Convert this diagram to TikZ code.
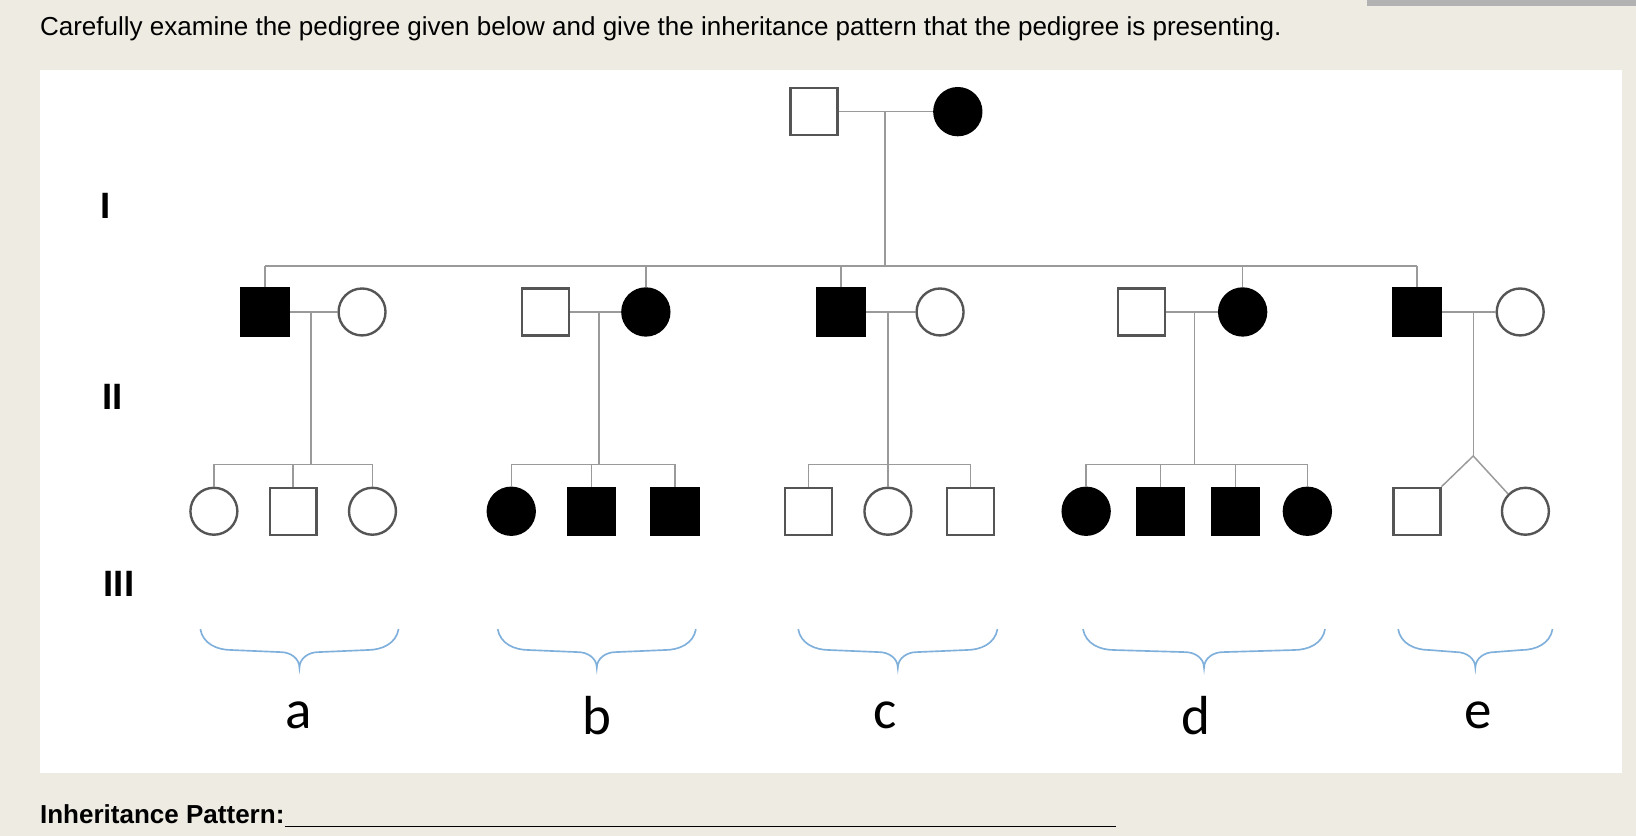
\documentclass[tikz,border=0pt]{standalone}
\usepackage{fontspec}
\setmainfont{Liberation Sans}
\newfontfamily\calfont{Carlito}
\definecolor{bg}{HTML}{EEEBE3}
\definecolor{ln}{HTML}{9A9A9A}
\definecolor{sh}{HTML}{555555}
\definecolor{bcol}{HTML}{7FB0DC}
\begin{document}
\begin{tikzpicture}[x=0.02cm,y=-0.02cm,
  M/.style={draw=sh,line width=1.3pt,fill=white,minimum size=0.9cm,inner sep=0pt,rectangle},
  F/.style={draw=sh,line width=1.3pt,fill=white,minimum size=0.9cm,inner sep=0pt,circle},
  aff/.style={fill=black,draw=black},
  lk/.style={ln,line width=0.8pt},
  brc/.style={bcol,line width=0.9pt},
  gen/.style={font=\bfseries\fontsize{20}{24}\selectfont},
  lab/.style={font=\calfont\fontsize{30}{34}\selectfont}]
\fill[bg] (0,0) rectangle (1568,801);
\useasboundingbox (0,0) rectangle (1568,801);
\fill[gray!60] (1310,0) rectangle (1568,6);
\fill[white] (38,67) rectangle (1555,741);
\node[anchor=west,font=\fontsize{14.2}{17}\selectfont,inner xsep=0pt] (title) at (38,28) {Carefully examine the pedigree given below and give the inheritance pattern that the pedigree is presenting.};
% Generation labels
\node[gen] (g1) at (101,197) {I};
\node[gen] (g2) at (108,380) {II};
\node[gen] (g3) at (114,560) {III};
% Gen I
\node[M] (p1) at (780,107) {};
\node[F,aff] (p2) at (918,107) {};
\coordinate (j0) at (848,107);
\coordinate (s0) at (848,255);
\draw[lk] (p1) -- (p2);
\draw[lk] (j0) -- (s0);
\draw[lk] (254,255) -- (1358,255);
% Gen II
\node[M,aff] (a1) at (254,299) {}; \node[F] (a2) at (347,299) {};
\node[M] (b1) at (523,299) {}; \node[F,aff] (b2) at (619,299) {};
\node[M,aff] (c1) at (806,299) {}; \node[F] (c2) at (901,299) {};
\node[M] (d1) at (1094,299) {}; \node[F,aff] (d2) at (1191,299) {};
\node[M,aff] (e1) at (1358,299) {}; \node[F] (e2) at (1457,299) {};
\foreach \p in {a1,b2,c1,d2,e1} \draw[lk] (\p.north) -- (\p.north |- s0);
\foreach \m/\f in {a1/a2,b1/b2,c1/c2,d1/d2,e1/e2} \draw[lk] (\m) -- (\f);
% Gen III
\node[F] (a3) at (205,490) {}; \node[M] (a4) at (281,490) {}; \node[F] (a5) at (357,490) {};
\node[F,aff] (b3) at (490,490) {}; \node[M,aff] (b4) at (567,490) {}; \node[M,aff] (b5) at (647,490) {};
\node[M] (c3) at (775,490) {}; \node[F] (c4) at (851,490) {}; \node[M] (c5) at (930,490) {};
\node[F,aff] (d3) at (1041,490) {}; \node[M,aff] (d4) at (1112,490) {}; \node[M,aff] (d5) at (1184,490) {}; \node[F,aff] (d6) at (1253,490) {};
\node[M] (e3) at (1358,490) {}; \node[F] (e4) at (1462,490) {};
% descent lines
\coordinate (ta) at (298,445); \coordinate (tb) at (574,445); \coordinate (tc) at (851,445); \coordinate (td) at (1145,445);
\draw[lk] (298,299) -- (ta); \draw[lk] (574,299) -- (tb); \draw[lk] (851,299) -- (tc); \draw[lk] (1145,299) -- (td);
\draw[lk] (a3.north) |- (ta) -| (a5.north); \draw[lk] (a4.north) -- (a4.north |- ta);
\draw[lk] (b3.north) |- (tb) -| (b5.north); \draw[lk] (b4.north) -- (b4.north |- tb);
\draw[lk] (c3.north) |- (tc) -| (c5.north); \draw[lk] (c4.north) -- (c4.north |- tc);
\draw[lk] (d3.north) |- (td) -| (d6.north); \draw[lk] (d4.north) -- (d4.north |- td); \draw[lk] (d5.north) -- (d5.north |- td);
\coordinate (te) at (1412,437);
\draw[lk] (1412,299) -- (te);
\draw[lk] (te) -- (e3.north east); \draw[lk] (te) -- (e4.north west);
% braces
\foreach \L/\R in {192/382,477/667,765/956,1038/1270,1340/1488}{
  \pgfmathsetmacro\Mid{(\L+\R)/2}
  \draw[brc] (\L,603) to[out=-80,in=180] (\L+30,623) -- (\Mid-18,625) to[out=0,in=90] (\Mid,640)
            to[out=90,in=180] (\Mid+18,625) -- (\R-30,623) to[out=0,in=-100] (\R,603);
}
\node[lab] (la) at (286,686) {a};
\node[lab] (lb) at (572,686) {b};
\node[lab] (lc) at (848,686) {c};
\node[lab] (ld) at (1146,686) {d};
\node[lab] (le) at (1417,686) {e};
\node[anchor=west,font=\bfseries\fontsize{14.2}{17}\selectfont,inner xsep=0pt] (ip) at (38,780) {Inheritance Pattern:};
\coordinate (u2) at (1070,792);
\draw[line width=0.8pt] (ip.east |- u2) -- (u2);
\end{tikzpicture}
\end{document}
